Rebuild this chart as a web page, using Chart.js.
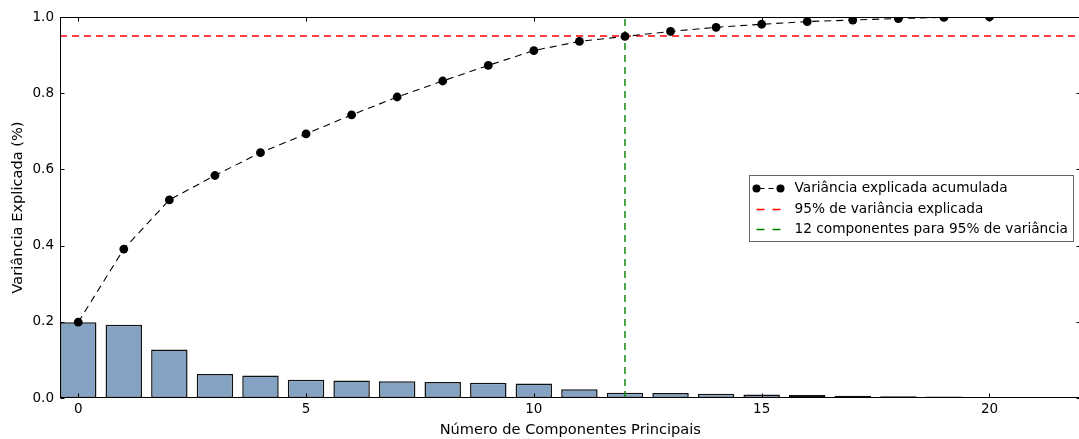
<!DOCTYPE html>
<html lang="pt">
<head>
<meta charset="UTF-8"/>
<script src="https://cdn.jsdelivr.net/npm/chart.js@4"></script>
<style>
    html, body { margin: 0; padding: 0; background: #fff; overflow: hidden; }
    #wrap { width: 1085px; height: 439px; }
</style>
</head>
<body>
<div id="wrap"><canvas id="pcaChart"></canvas></div>
<script>
// data
const components = [0, 1, 2, 3, 4, 5, 6, 7, 8, 9, 10, 11, 12, 13, 14, 15, 16, 17, 18, 19, 20];
const explainedVariance = [0.199, 0.192, 0.127, 0.063, 0.059, 0.048, 0.046, 0.044, 0.042, 0.040,
    0.038, 0.023, 0.014, 0.013, 0.011, 0.0095, 0.008, 0.006, 0.0045, 0.004, 0.0008];
const cumulativeVariance = [0.199, 0.391, 0.520, 0.584, 0.644, 0.693, 0.743, 0.790, 0.832, 0.873,
    0.912, 0.936, 0.949, 0.962, 0.973, 0.981, 0.988, 0.992, 0.996, 0.999, 1.000];
const threshold = 0.95;
const componentsFor95 = 12;
const xTicks = [0, 5, 10, 15, 20];
const yTicks = [0, 0.2, 0.4, 0.6, 0.8, 1.0];
const xRange = [-0.4, 22];
const yRange = [0, 1];

const labels = {
    cumulative: 'Variância explicada acumulada',
    threshold: '95% de variância explicada',
    components: '12 componentes para 95% de variância',
    xTitle: 'Número de Componentes Principais',
    yTitle: 'Variância Explicada (%)'
};

const FONT = "'DejaVu Sans', sans-serif";

const asPoints = (xs, ys) => xs.map((x, i) => ({x, y: ys[i]}));

// spines + inward ticks on all four sides, like matplotlib classic
const framePlugin = {
    id: 'frame',
    afterDatasetsDraw(chart) {
        const {ctx, chartArea: a, scales: {x, y}} = chart;
        const L = Math.round(a.left) + 0.5, R = Math.round(a.right) - 0.5;
        const T = Math.round(a.top) + 0.5, B = Math.round(a.bottom) - 0.5;
        ctx.save();
        ctx.strokeStyle = '#000';
        ctx.lineWidth = 1;
        ctx.strokeRect(L, T, R - L, B - T);
        ctx.beginPath();
        xTicks.forEach(v => {
            const px = Math.round(x.getPixelForValue(v)) + 0.5;
            ctx.moveTo(px, B); ctx.lineTo(px, B - 4);
            ctx.moveTo(px, T); ctx.lineTo(px, T + 4);
        });
        yTicks.forEach(v => {
            const py = Math.round(y.getPixelForValue(v)) + 0.5;
            ctx.moveTo(L, py); ctx.lineTo(L + 4, py);
            ctx.moveTo(R, py); ctx.lineTo(R - 4, py);
        });
        ctx.stroke();
        ctx.restore();
    }
};

// legend box at "center right" inside the axes
const legendPlugin = {
    id: 'boxLegend',
    afterDraw(chart) {
        const {ctx, chartArea: a} = chart;
        const items = chart.data.datasets.filter(d => d.label);
        ctx.save();
        ctx.font = `13.7px ${FONT}`;
        const textW = Math.max(...items.map(d => ctx.measureText(d.label).width));
        const padX = 7, handle = 24, gap = 14, padR = 6, rowGap = 20.5, padY = 12.5;
        const w = padX + handle + gap + textW + padR;
        const h = padY * 2 + rowGap * (items.length - 1);
        const right = a.right - 7;
        const left = Math.round(right - w) + 0.5;
        const top = Math.round((a.top + a.bottom) / 2 - h / 2) + 0.5;
        ctx.fillStyle = '#fff';
        ctx.strokeStyle = '#666';
        ctx.lineWidth = 1;
        ctx.fillRect(left, top, Math.round(w), Math.round(h));
        ctx.strokeRect(left, top, Math.round(w), Math.round(h));
        items.forEach((d, i) => {
            const cy = Math.round(top + padY + i * rowGap) + 0.5;
            const x0 = left + padX, x1 = x0 + handle;
            ctx.strokeStyle = d.borderColor;
            ctx.lineWidth = d.borderWidth;
            if (d.pointRadius > 0) {
                ctx.setLineDash([5, 4]);
                ctx.beginPath(); ctx.moveTo(x0 + 3, cy); ctx.lineTo(x1 - 3, cy); ctx.stroke();
                ctx.setLineDash([]);
                ctx.fillStyle = d.pointBackgroundColor;
                [x0, x1].forEach(px => {
                    ctx.beginPath(); ctx.arc(px, cy, 4, 0, Math.PI * 2); ctx.fill();
                });
            } else {
                ctx.setLineDash([8, 8]);
                ctx.beginPath(); ctx.moveTo(x0, cy); ctx.lineTo(x1, cy); ctx.stroke();
                ctx.setLineDash([]);
            }
            ctx.fillStyle = '#000';
            ctx.textBaseline = 'middle';
            ctx.textAlign = 'left';
            ctx.fillText(d.label, x1 + gap, cy);
        });
        ctx.restore();
    }
};

const data = {
    datasets: [
        {
            type: 'line',
            label: labels.cumulative,
            data: asPoints(components, cumulativeVariance),
            borderColor: '#000',
            borderWidth: 1.1,
            borderDash: [7, 5],
            pointRadius: 4.4,
            pointBackgroundColor: '#000',
            pointBorderColor: '#000',
            pointBorderWidth: 0,
            tension: 0,
            clip: 0,
            order: 1
        },
        {
            type: 'line',
            label: labels.threshold,
            data: asPoints(xRange, [threshold, threshold]),
            borderColor: '#ff0000',
            borderWidth: 1.4,
            borderDash: [7, 5],
            pointRadius: 0,
            clip: 0,
            order: 2
        },
        {
            type: 'line',
            label: labels.components,
            data: asPoints([componentsFor95, componentsFor95], yRange),
            borderColor: '#008000',
            borderWidth: 1.4,
            borderDash: [7, 5],
            pointRadius: 0,
            clip: 0,
            order: 3
        },
        {
            type: 'bar',
            data: asPoints(components, explainedVariance),
            backgroundColor: '#84a3c2',
            borderColor: '#111',
            borderWidth: 1.5,
            borderSkipped: false,
            categoryPercentage: 1,
            barPercentage: 0.8,
            clip: 0,
            order: 4
        }
    ]
};

const config = {
    type: 'bar',
    data,
    options: {
        responsive: true,
        maintainAspectRatio: false,
        animation: false,
        events: [],
        layout: {padding: {top: 17, right: 4, left: 0, bottom: 0}},
        plugins: {legend: {display: false}, tooltip: {enabled: false}},
        scales: {
            x: {
                type: 'linear',
                offset: false,
                min: xRange[0],
                max: xRange[1],
                grid: {display: false, drawTicks: false},
                border: {display: false},
                afterBuildTicks: s => { s.ticks = xTicks.map(value => ({value})); },
                afterFit: s => { s.height = 41; },
                ticks: {
                    color: '#000', padding: 3,
                    font: {family: FONT, size: 13.5},
                    maxRotation: 0
                },
                title: {
                    display: true, text: labels.xTitle, color: '#000',
                    font: {family: FONT, size: 14.6}, padding: {top: 0, bottom: 0}
                }
            },
            y: {
                type: 'linear',
                min: yRange[0],
                max: yRange[1],
                grid: {display: false, drawTicks: false},
                border: {display: false},
                afterBuildTicks: s => { s.ticks = yTicks.map(value => ({value})); },
                afterFit: s => { s.width = 60; },
                ticks: {
                    color: '#000', padding: 6,
                    font: {family: FONT, size: 13.5},
                    callback: v => v.toFixed(1)
                },
                title: {
                    display: true, text: labels.yTitle, color: '#000',
                    font: {family: FONT, size: 14.6}, padding: {top: 9.5, bottom: 0}
                }
            }
        }
    },
    plugins: [framePlugin, legendPlugin]
};

const pcaChart = new Chart(document.getElementById('pcaChart'), config);
</script>
</body>
</html>
